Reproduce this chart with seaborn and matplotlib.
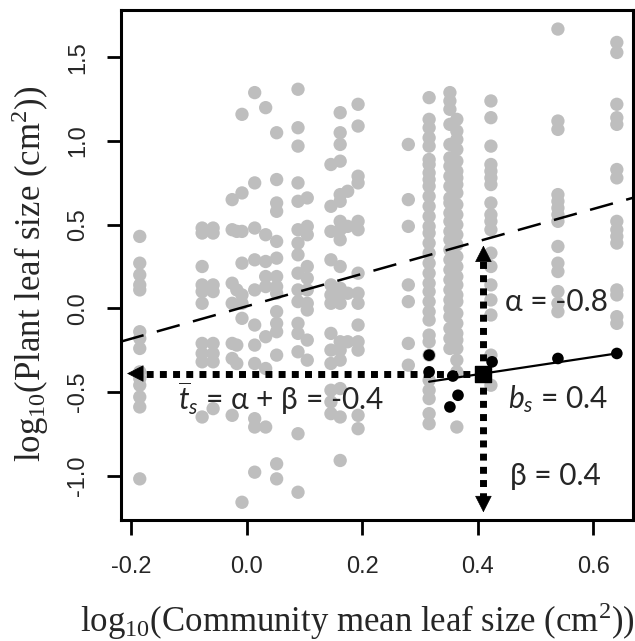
import numpy as np
import pandas as pd
import seaborn as sns
import matplotlib.pyplot as plt

# --- data ---
# community mean leaf size (x) for each community, with the plants in it (y)
community_x = [-0.185, -0.077, -0.058, -0.025, -0.017, -0.008, 0.014, 0.033,
               0.052, 0.089, 0.105, 0.146, 0.162, 0.175, 0.193, 0.280, 0.316,
               0.352, 0.364, 0.423, 0.539, 0.641]
plant_y = [
    [0.43, 0.27, 0.20, 0.14, 0.11, -0.14, -0.18, -0.24, -0.38, -0.42, -0.46, -0.53, -0.59, -1.02],
    [0.48, 0.45, 0.25, 0.14, 0.10, 0.03, -0.21, -0.27, -0.32, -0.65],
    [0.48, 0.45, 0.14, 0.10, -0.21, -0.27, -0.32, -0.60],
    [0.65, 0.47, 0.15, 0.03, -0.21, -0.30, -0.64],
    [0.46, 0.11, -0.22, -0.33],
    [1.16, 0.69, 0.46, 0.27, 0.08, 0.03, -0.06, -1.16],
    [1.29, 0.75, 0.48, 0.29, 0.11, -0.10, -0.22, -0.33, -0.66, -0.71, -0.98],
    [1.20, 0.44, 0.28, 0.19, 0.13, -0.17, -0.36, -0.71],
    [1.05, 0.77, 0.63, 0.58, 0.40, 0.30, 0.19, 0.13, 0.09, -0.02, -0.09, -0.14, -0.28, -0.93, -1.02],
    [1.31, 1.08, 0.97, 0.75, 0.64, 0.47, 0.39, 0.32, 0.21, 0.11, 0.04, -0.09, -0.15, -0.26, -0.75, -1.10],
    [0.66, 0.49, 0.44, 0.25, 0.18, 0.11, 0.03, -0.01, -0.19, -0.31],
    [0.86, 0.61, 0.46, 0.29, 0.14, 0.08, 0.03, -0.15, -0.25, -0.33, -0.49, -0.56, -0.63],
    [1.17, 1.05, 0.98, 0.88, 0.68, 0.64, 0.52, 0.47, 0.41, 0.25, 0.12, 0.09, 0.03, -0.20, -0.25,
     -0.31, -0.48, -0.65, -0.91],
    [0.70, 0.49, 0.09, -0.20],
    [1.22, 1.09, 0.79, 0.75, 0.52, 0.47, 0.21, 0.09, 0.03, -0.10, -0.20, -0.25, -0.64, -0.72],
    [0.98, 0.65, 0.49, 0.14, 0.04, -0.21, -0.34],
    [1.26, 1.13, 1.08, 1.02, 0.97, 0.89, 0.86, 0.81, 0.77, 0.73, 0.67, 0.61, 0.55, 0.49, 0.45,
     0.39, 0.33, 0.27, 0.21, 0.15, 0.10, 0.04, -0.02, -0.07, -0.16, -0.20, -0.28, -0.43, -0.49,
     -0.54, -0.63, -0.69],
    [1.29, 1.24, 1.19, 1.10, 0.98, 0.90, 0.85, 0.79, 0.73, 0.66, 0.63, 0.57, 0.52, 0.46, 0.41,
     0.35, 0.29, 0.23, 0.17, 0.11, 0.05, 0.00, -0.05, -0.12, -0.18, -0.24],
    [1.13, 1.06, 1.01, 0.95, 0.88, 0.82, 0.78, 0.74, 0.69, 0.62, 0.56, 0.50, 0.44, 0.38, 0.31,
     0.25, 0.19, 0.14, 0.08, 0.04, -0.03, -0.09, -0.15, -0.19, -0.24, -0.31, -0.38, -0.71],
    [1.24, 1.14, 0.97, 0.86, 0.82, 0.78, 0.74, 0.63, 0.56, 0.52, 0.47, 0.33, 0.25, 0.14, 0.05,
     -0.04, -0.28, -0.46],
    [1.67, 1.12, 1.07, 0.68, 0.64, 0.60, 0.56, 0.52, 0.37, 0.27, 0.22, 0.10, 0.03, -0.02],
    [1.59, 1.53, 1.22, 1.14, 1.10, 0.83, 0.78, 0.52, 0.47, 0.43, 0.39, 0.11, 0.08, -0.05, -0.09],
]

# focal species (black points)
focal_x = [0.316, 0.316, 0.357, 0.366, 0.352, 0.425, 0.539, 0.641]
focal_y = [-0.28, -0.38, -0.405, -0.52, -0.59, -0.32, -0.30, -0.27]

# species fit: mean trait at x_bar and slope b_s
species_x_bar = 0.41
species_t_bar = -0.39
species_slope = 0.52
species_range = [0.316, 0.641]

# community-level regression (dashed)
comm_intercept = 0.012
comm_slope = 0.97

# where the arrows stop
arrow_left_x = -0.207
arrow_up_y = 0.375
arrow_down_y = -1.22

x_ticks = [-0.2, 0.0, 0.2, 0.4, 0.6]
x_tick_labels = ["-0.2", "0.0", "0.2", "0.4", "0.6"]
y_ticks = [-1.0, -0.5, 0.0, 0.5, 1.0, 1.5]
y_tick_labels = ["-1.0", "-0.5", "0.0", "0.5", "1.0", "1.5"]

# --- style ---
sns.set_style("white")
plt.rcParams["axes.unicode_minus"] = False
plt.rcParams["mathtext.fontset"] = "custom"
plt.rcParams["mathtext.rm"] = "Liberation Serif"
plt.rcParams["mathtext.it"] = "Lato:italic"

gray = pd.DataFrame({
    "x": np.repeat(community_x, [len(v) for v in plant_y]),
    "y": np.concatenate(plant_y),
})
focal = pd.DataFrame({"x": focal_x, "y": focal_y})

fig = plt.figure(figsize=(6.35, 6.41), dpi=100)
ax = fig.add_axes([120.7 / 635, 121 / 641, (633 - 120.7) / 635, 510 / 641])

sns.scatterplot(data=gray, x="x", y="y", color="#bebebe", s=92,
                edgecolor="none", linewidth=0, ax=ax, zorder=1)

# dashed community line
ax.axline((0, comm_intercept), slope=comm_slope, color="black", lw=1.8,
          dashes=(9.5, 5.5), zorder=2)

# species line through focal points
line_x = np.array(species_range)
line_y = species_t_bar + species_slope * (line_x - species_x_bar)
sns.lineplot(x=line_x, y=line_y, color="black", lw=1.6, ax=ax, zorder=3)
sns.scatterplot(data=focal, x="x", y="y", color="black", s=70,
                edgecolor="none", ax=ax, zorder=4)

# dotted arrows
dot = dict(color="black", lw=5, dashes=(1, 0.9), dash_capstyle="butt",
           solid_capstyle="butt", zorder=5)
ax.plot([species_x_bar, arrow_left_x + 0.03], [species_t_bar, species_t_bar], **dot)
ax.plot([species_x_bar, species_x_bar], [species_t_bar, arrow_up_y - 0.09], **dot)
ax.plot([species_x_bar, species_x_bar], [species_t_bar, arrow_down_y + 0.09], **dot)

head = dict(arrowstyle="-|>,head_length=0.55,head_width=0.28", color="black",
            lw=0.5, shrinkA=0, shrinkB=0, mutation_scale=20)
ax.annotate("", xy=(arrow_left_x, species_t_bar), xytext=(11, 0),
            textcoords="offset points", arrowprops=head, zorder=6)
ax.annotate("", xy=(species_x_bar, arrow_up_y), xytext=(0, -11),
            textcoords="offset points", arrowprops=head, zorder=6)
ax.annotate("", xy=(species_x_bar, arrow_down_y), xytext=(0, 11),
            textcoords="offset points", arrowprops=head, zorder=6)

ax.scatter([species_x_bar], [species_t_bar], marker="s", s=130,
           color="black", zorder=7)

# annotations
tfont = dict(fontsize=21.5, family=["Lato", "DejaVu Sans"], va="center", ha="left", zorder=8)
ax.text(0.447, 0.04, "α = -0.8", **tfont)
ax.text(0.452, -0.54, r"$b_s$ = 0.4", **tfont)
ax.text(0.456, -1.00, "β = 0.4", **tfont)
ax.text(-0.119, -0.54, r"$\overline{t}_s$ = α + β = -0.4", **tfont)

# axes
ax.set_xlim(-0.218, 0.669)
ax.set_ylim(-1.266, 1.784)
ax.set_xticks(x_ticks)
ax.set_xticklabels(x_tick_labels, family="Liberation Sans", fontsize=17)
ax.set_yticks(y_ticks)
ax.set_yticklabels(y_tick_labels, family="Liberation Sans", fontsize=17,
                   rotation=90, va="center")
ax.tick_params(axis="x", direction="out", length=11, width=2, pad=15,
               bottom=True, color="black")
ax.tick_params(axis="y", direction="out", length=10, width=2, pad=13,
               left=True, color="black")
for s in ax.spines.values():
    s.set_color("black")
    s.set_linewidth(2.2)

ax.set_xlabel("log$_{10}$(Community mean leaf size (cm$^2$))",
              family="Liberation Serif", fontsize=25)
ax.set_ylabel("log$_{10}$(Plant leaf size (cm$^2$))",
              family="Liberation Serif", fontsize=25)
ax.xaxis.set_label_coords(0.461, -0.198)
ax.yaxis.set_label_coords(-0.176, 0.482)
ax.xaxis.label.set_va("center")
ax.yaxis.label.set_va("center")

fig.savefig("out.png", dpi=100)
